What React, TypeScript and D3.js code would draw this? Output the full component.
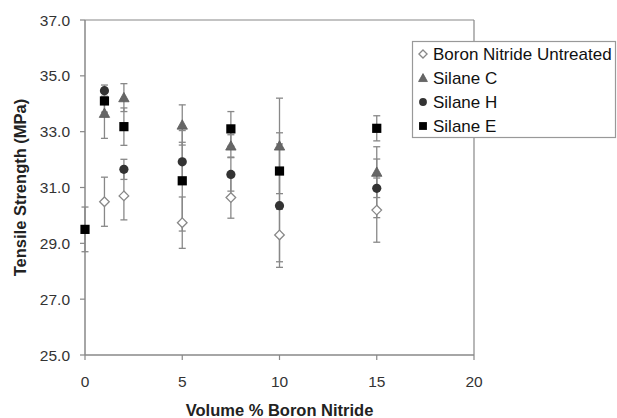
import React from "react";
import * as d3 from "d3";

const xTicks = [0, 5, 10, 15, 20];
const yTicks = [25, 27, 29, 31, 33, 35, 37];

const xUntreated = [1, 2, 5, 7.5, 10, 15];
const yUntreated = [30.49, 30.7, 29.74, 30.64, 29.3, 30.19];
const eUntreated = [0.88, 0.86, 0.92, 0.74, 0.96, 1.15];

const xSilaneC = [1, 2, 5, 7.5, 10, 15];
const ySilaneC = [33.66, 34.22, 33.24, 32.49, 32.49, 31.55];
const eSilaneC = [0.9, 0.5, 0.72, 0.4, 1.71, 0.91];

const xSilaneH = [1, 2, 5, 7.5, 10, 15];
const ySilaneH = [34.47, 31.65, 31.92, 31.47, 30.35, 30.97];
const eSilaneH = [0.2, 0.36, 0.7, 0.6, 2.21, 1.05];

const xSilaneE = [0, 1, 2, 5, 7.5, 10, 15];
const ySilaneE = [29.5, 34.1, 33.18, 31.24, 33.1, 31.59, 33.12];
const eSilaneE = [0.8, 0.4, 0.67, 1.8, 0.62, 1.37, 0.45];

const seriesNames = ["Boron Nitride Untreated", "Silane C", "Silane H", "Silane E"];

type Shape = "diamond" | "triangle" | "circle" | "square";

const series = [
  { name: seriesNames[0], xs: xUntreated, ys: yUntreated, es: eUntreated, shape: "diamond" as Shape },
  { name: seriesNames[1], xs: xSilaneC, ys: ySilaneC, es: eSilaneC, shape: "triangle" as Shape },
  { name: seriesNames[2], xs: xSilaneH, ys: ySilaneH, es: eSilaneH, shape: "circle" as Shape },
  { name: seriesNames[3], xs: xSilaneE, ys: ySilaneE, es: eSilaneE, shape: "square" as Shape },
];

const FONT = "Liberation Sans, Arial, sans-serif";
const AXIS = "#888";

function Marker({ shape, cx, cy, s = 1 }: { shape: Shape; cx: number; cy: number; s?: number }) {
  if (shape === "diamond") {
    const r = 4.8 * s;
    return (
      <path
        d={`M${cx},${cy - r} L${cx + r},${cy} L${cx},${cy + r} L${cx - r},${cy} Z`}
        fill="#fff"
        stroke="#888"
        strokeWidth={1.3}
      />
    );
  }
  if (shape === "triangle") {
    const r = 5.2 * s;
    return (
      <path
        d={`M${cx},${cy - r} L${cx + r},${cy + r * 0.8} L${cx - r},${cy + r * 0.8} Z`}
        fill="#666"
        stroke="#5a5a5a"
        strokeWidth={0.8}
      />
    );
  }
  if (shape === "circle") {
    return <circle cx={cx} cy={cy} r={4.6 * s} fill="#333" />;
  }
  const h = 4.6 * s;
  return <rect x={cx - h} y={cy - h} width={2 * h} height={2 * h} fill="#000" />;
}

export default function App() {
  const x = d3.scaleLinear().domain([0, 20]).range([85, 474]);
  const y = d3.scaleLinear().domain([25, 37]).range([355, 20]);
  const [x0, x1] = x.range();
  const [y0, y1] = y.range();

  return (
    <svg
      width={617}
      height={418}
      style={{ position: "absolute", left: 0, top: 0, background: "#fff" }}
      fontFamily={FONT}
    >
      <rect x={0} y={0} width={617} height={418} fill="#fff" />
      {/* plot frame */}
      <line x1={x0} x2={x1} y1={y1} y2={y1} stroke={AXIS} strokeWidth={1.2} />
      <line x1={x1} x2={x1} y1={y1} y2={y0} stroke={AXIS} strokeWidth={1.2} />
      <line x1={x0} x2={x1} y1={y0} y2={y0} stroke={AXIS} strokeWidth={1.5} />
      <line x1={x0} x2={x0} y1={y1} y2={y0} stroke={AXIS} strokeWidth={1.5} />

      {/* y ticks */}
      {yTicks.map((t) => (
        <g key={"y" + t}>
          <line x1={x0 - 5} x2={x0} y1={y(t)} y2={y(t)} stroke={AXIS} strokeWidth={1.2} />
          <text x={70} y={y(t)} dy="0.36em" textAnchor="end" fontSize={15.5} fill="#333">
            {t.toFixed(1)}
          </text>
        </g>
      ))}
      {/* x ticks */}
      {xTicks.map((t) => (
        <g key={"x" + t}>
          <line x1={x(t)} x2={x(t)} y1={y0} y2={y0 + 5} stroke={AXIS} strokeWidth={1.2} />
          <text x={x(t)} y={387} textAnchor="middle" fontSize={15.5} fill="#333">
            {t}
          </text>
        </g>
      ))}

      {/* axis titles */}
      <text
        x={(x0 + x1) / 2}
        y={416}
        textAnchor="middle"
        fontSize={16.5}
        fontWeight="bold"
        fill="#222"
      >
        Volume % Boron Nitride
      </text>
      <text
        transform={`translate(26,${(y0 + y1) / 2}) rotate(-90)`}
        textAnchor="middle"
        fontSize={16.5}
        fontWeight="bold"
        fill="#222"
      >
        Tensile Strength (MPa)
      </text>

      {/* error bars */}
      {series.map((s) =>
        s.xs.map((xv, i) => {
          const cx = x(xv);
          const top = y(s.ys[i] + s.es[i]);
          const bot = y(s.ys[i] - s.es[i]);
          return (
            <g key={s.name + "e" + i} stroke="#888" strokeWidth={1.3}>
              <line x1={cx} x2={cx} y1={top} y2={bot} />
              <line x1={cx - 3.5} x2={cx + 3.5} y1={top} y2={top} />
              <line x1={cx - 3.5} x2={cx + 3.5} y1={bot} y2={bot} />
            </g>
          );
        })
      )}

      {/* markers */}
      {series.map((s) =>
        s.xs.map((xv, i) => (
          <Marker key={s.name + "m" + i} shape={s.shape} cx={x(xv)} cy={y(s.ys[i])} />
        ))
      )}

      {/* legend */}
      <rect x={412.5} y={41.5} width={203} height={96} fill="#fff" stroke="#999" strokeWidth={1.2} />
      {series.map((s, i) => (
        <g key={s.name + "l"}>
          <Marker shape={s.shape} cx={423} cy={54 + i * 24} s={0.85} />
          <text x={433} y={54 + i * 24} dy="0.36em" fontSize={17} fill="#111">
            {s.name}
          </text>
        </g>
      ))}
    </svg>
  );
}
